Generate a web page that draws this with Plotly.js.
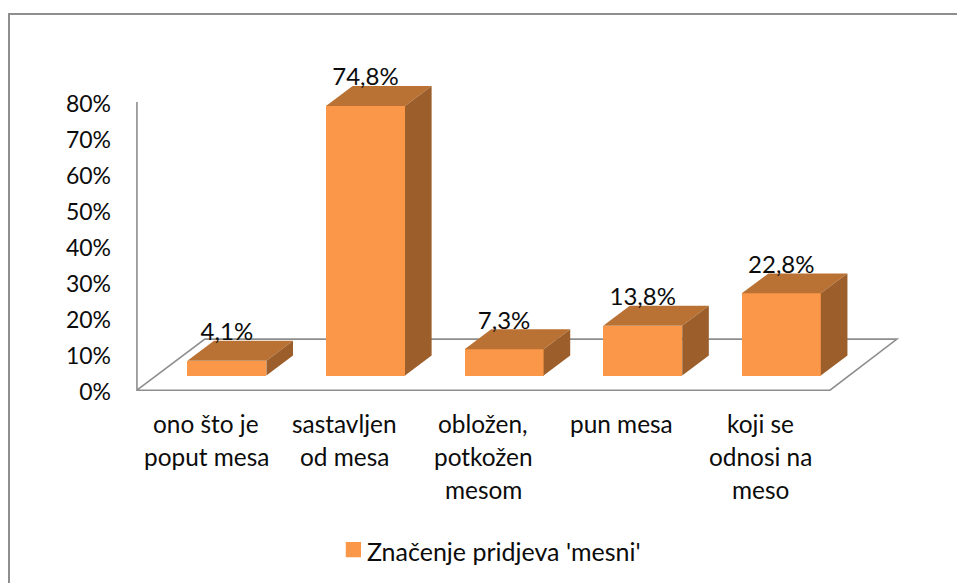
<!DOCTYPE html>
<html>
<head>
<meta charset="utf-8">
<script src="https://cdn.plot.ly/plotly-3.0.1.min.js"></script>
<style>
html,body{margin:0;padding:0;background:#fff;overflow:hidden}
#frame{position:absolute;left:8px;top:13px;width:949px;height:570px;border-top:2px solid #8e8e8e;border-left:2px solid #8e8e8e;box-sizing:border-box}
#chart{position:absolute;left:0;top:0;width:957px;height:583px}
</style>
</head>
<body>
<div id="frame"></div>
<div id="chart"></div>
<script>
const categories = ['ono što je<br>poput mesa', 'sastavljen<br>od mesa', 'obložen,<br>potkožen<br>mesom', 'pun mesa', 'koji se<br>odnosi na<br>meso'];
const values = [4.1, 74.8, 7.3, 13.8, 22.8];
const axisTicks = [0, 10, 20, 30, 40, 50, 60, 70, 80];
const seriesName = "Značenje pridjeva 'mesni'";

const FONT = 'Lato, Carlito, Calibri, sans-serif';
const FRONT = '#FA9749', TOP = '#B97234', SIDE = '#9C5F2B', RULE = '#8e8e8e', INK = '#0c0c0c';

// Pseudo-3D geometry, expressed in axis units.
const floorLift = 4.08, barWidth = 0.57, depthX = 0.192, depthY = 5.55, labelLift = 7.4;
const xs = values.map((_, i) => i);

const topX = [], topY = [], sideX = [], sideY = [];
values.forEach((v, i) => {
  const l = i - barWidth / 2, r = i + barWidth / 2;
  const b = floorLift, t = floorLift + v;
  topX.push(l, r, r + depthX, l + depthX, l, null);
  topY.push(t, t, t + depthY, t + depthY, t, null);
  sideX.push(r, r + depthX, r + depthX, r, r, null);
  sideY.push(b, b + depthY, t + depthY, t, b, null);
});

const traces = [
  {type: 'bar', name: seriesName, x: xs, y: values, base: floorLift, width: barWidth,
   marker: {color: FRONT, line: {width: 0}}, showlegend: true, hoverinfo: 'x+y'},
  {type: 'scatter', mode: 'lines', x: topX, y: topY, fill: 'toself', fillcolor: TOP,
   line: {width: 0, color: TOP}, showlegend: false, hoverinfo: 'skip', cliponaxis: false},
  {type: 'scatter', mode: 'lines', x: sideX, y: sideY, fill: 'toself', fillcolor: SIDE,
   line: {width: 0, color: SIDE}, showlegend: false, hoverinfo: 'skip', cliponaxis: false},
  {type: 'scatter', mode: 'text', x: xs, y: values.map(v => floorLift + v + labelLift),
   text: values.map(v => v.toFixed(1).replace('.', ',') + '%'), textposition: 'middle center',
   textfont: {family: FONT, size: 24, color: INK}, showlegend: false, hoverinfo: 'skip', cliponaxis: false}
];

const pxPerCat = 138.6, pxPerUnit = 3.6;
const xRange = [-0.8, 4.95], yRange = [-3, 100];
const left = 227 + xRange[0] * pxPerCat;
const right = 227 + xRange[1] * pxPerCat;
const top_ = 390 - yRange[1] * pxPerUnit;
const bottom = 390 - yRange[0] * pxPerUnit;

const wallX = -0.649, backLeftX = -0.159, backRightX = 4.834, frontRightX = 4.351, backY = 14.17;

const catLabels = [];
categories.forEach((c, i) => {
  c.split('<br>').forEach((line, j) => {
    catLabels.push({x: i - 0.15, y: 0, xref: 'x', yref: 'y', text: line, showarrow: false,
      xanchor: 'center', yanchor: 'middle', yshift: -(33 + 33 * j),
      font: {family: FONT, size: 24.4, color: INK}});
  });
});

const layout = {
  width: 957, height: 583,
  margin: {l: left, r: 957 - right, t: top_, b: 583 - bottom, pad: 0, autoexpand: false},
  paper_bgcolor: 'rgba(0,0,0,0)', plot_bgcolor: 'rgba(0,0,0,0)',
  font: {family: FONT, size: 23, color: INK},
  xaxis: {range: xRange, showgrid: false, zeroline: false, showline: false, ticks: '', showticklabels: false},
  yaxis: {range: yRange, tickmode: 'array', tickvals: axisTicks, ticktext: axisTicks.map(t => t + '%'),
          showgrid: false, zeroline: false, showline: false, ticks: '',
          ticklabelstandoff: 4, ticklabelshift: 2,
          tickfont: {family: FONT, size: 23, color: INK}},
  shapes: [
    {type: 'path', xref: 'x', yref: 'y', layer: 'below',
     path: `M${wallX},80 L${wallX},0 L${frontRightX},0 L${backRightX},${backY} L${backLeftX},${backY} L${wallX},0`,
     line: {color: RULE, width: 1.6}, fillcolor: 'rgba(0,0,0,0)'}
  ],
  annotations: catLabels,
  legend: {x: (327 - left) / (right - left), xanchor: 'left',
           y: (bottom - 551) / (bottom - top_), yanchor: 'middle',
           font: {family: FONT, size: 25, color: INK}, bgcolor: 'rgba(0,0,0,0)', borderwidth: 0},
  showlegend: true, hovermode: 'closest', bargap: 0
};

Plotly.newPlot('chart', traces, layout, {displayModeBar: false, responsive: false}).then(gd => {
  // The reference's legend key is larger and sits closer to its text than Plotly's default.
  gd.querySelectorAll('.legend .legendpoints path, .legend .legendbar path').forEach(p => {
    if ((p.getAttribute('d') || '').startsWith('M6,6')) {
      p.setAttribute('transform', 'translate(26.5,-1.5) scale(1.27)');
    }
  });
});
</script>
</body>
</html>
